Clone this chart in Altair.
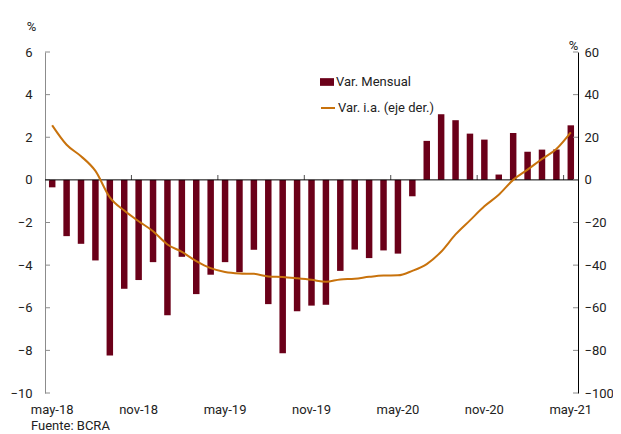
import altair as alt
import pandas as pd

# ---------------- data ----------------
months = [
    "may-18", "jun-18", "jul-18", "ago-18", "sep-18", "oct-18", "nov-18", "dic-18",
    "ene-19", "feb-19", "mar-19", "abr-19", "may-19", "jun-19", "jul-19", "ago-19",
    "sep-19", "oct-19", "nov-19", "dic-19", "ene-20", "feb-20", "mar-20", "abr-20",
    "may-20", "jun-20", "jul-20", "ago-20", "sep-20", "oct-20", "nov-20", "dic-20",
    "ene-21", "feb-21", "mar-21", "abr-21", "may-21",
]
var_mensual = [
    -0.35, -2.64, -3.00, -3.78, -8.24, -5.11, -4.70, -3.86,
    -6.35, -3.61, -5.36, -4.45, -3.86, -4.33, -3.28, -5.83,
    -8.13, -6.17, -5.90, -5.86, -4.27, -3.27, -3.67, -3.31,
    -3.46, -0.77, 1.83, 3.08, 2.80, 2.17, 1.89, 0.25,
    2.20, 1.32, 1.42, 1.42, 2.56,
]
var_ia = [
    25.6, 16.5, 11.1, 4.2, -8.2, -14.4, -19.4, -24.1,
    -30.3, -33.8, -38.1, -41.4, -43.2, -43.9, -44.1, -45.3,
    -45.6, -46.2, -46.9, -47.8, -46.7, -46.4, -45.5, -44.9,
    -44.8, -42.7, -39.5, -33.7, -25.6, -19.0, -12.4, -7.0,
    0.0, 4.8, 9.8, 14.5, 22.3,
]
serie_mensual = "Var. Mensual"
serie_ia = "Var. i.a. (eje der.)"
x_labels = ["may-18", "nov-18", "may-19", "nov-19", "may-20", "nov-20", "may-21"]
x_tick_months = ["nov-18", "may-19", "nov-19", "may-20", "nov-20", "may-21"]
left_ticks = [-10, -8, -6, -4, -2, 0, 2, 4, 6]
right_ticks = [-100, -80, -60, -40, -20, 0, 20, 40, 60]
zero_line = [0]
fuente = "Fuente: BCRA"

# ---------------- style ----------------
BAR = "#6B0019"
LINE = "#C8720C"
FONT = "Roboto"
TXT = "#222222"
W, H = 533, 341

df = pd.DataFrame({
    "mes": months,
    "mensual": var_mensual,
    "ia": var_ia,
    "s_m": [serie_mensual] * len(months),
    "s_ia": [serie_ia] * len(months),
})

xscale = alt.Scale(domain=months, paddingInner=0, paddingOuter=0)

bars = alt.Chart(df).mark_bar(width=alt.RelativeBandSize(0.45)).encode(
    x=alt.X("mes:N", sort=months, scale=xscale,
            axis=alt.Axis(values=x_labels, title=None, domain=False, ticks=False,
                          labelAngle=0, labelPadding=10, labelFont=FONT,
                          labelFontSize=13, labelColor=TXT)),
    y=alt.Y("mensual:Q", scale=alt.Scale(domain=[-10, 6], nice=False, zero=False),
            axis=alt.Axis(values=left_ticks, title="%", titleAngle=0, titleX=-14,
                          titleY=-26, titleAlign="center", titleBaseline="middle",
                          titleFont=FONT, titleFontSize=13, titleFontWeight="normal",
                          titleColor=TXT, ticks=False, grid=False,
                          domainColor="#8c8c8c", labelPadding=13, labelFont=FONT,
                          labelFontSize=13, labelColor=TXT)),
    fill=alt.Fill("s_m:N", scale=alt.Scale(range=[BAR]),
                  legend=alt.Legend(title=None, orient="none", legendX=275, legendY=23,
                                    symbolType="M-1,-0.55H1V0.55H-1Z", symbolSize=196,
                                    symbolStrokeWidth=0, labelFont=FONT, labelFontSize=13,
                                    labelColor=TXT, labelOffset=2, padding=0)),
)

lticks = alt.Chart(pd.DataFrame({"v": left_ticks})).mark_rule(
    color="#8c8c8c", strokeWidth=1
).encode(y="v:Q", x=alt.value(0), x2=alt.value(5))

zero = alt.Chart(pd.DataFrame({"v": zero_line})).mark_rule(
    color="#000000", strokeWidth=1
).encode(y="v:Q")

xticks = alt.Chart(pd.DataFrame({"mes": x_tick_months})).mark_tick(
    orient="vertical", size=5, thickness=1, yOffset=-2.5, color="#000000"
).encode(x=alt.X("mes:N", sort=months, bandPosition=0), y=alt.datum(0))

left = alt.layer(bars, lticks, zero, xticks)

line = alt.Chart(df).mark_line(strokeWidth=2, interpolate="monotone").encode(
    x=alt.X("mes:N", sort=months),
    y=alt.Y("ia:Q", scale=alt.Scale(domain=[-100, 60], nice=False, zero=False),
            axis=alt.Axis(orient="right", values=right_ticks, title="%", titleAngle=0,
                          titleX=-5, titleY=-7, titleAlign="center",
                          titleBaseline="middle", titleFont=FONT, titleFontSize=13,
                          titleFontWeight="normal", titleColor=TXT, ticks=False,
                          grid=False, domainColor="#000000", labelPadding=6,
                          labelFont=FONT, labelFontSize=13, labelColor=TXT)),
    stroke=alt.Stroke("s_ia:N", scale=alt.Scale(range=[LINE]),
                      legend=alt.Legend(title=None, orient="none", legendX=275, legendY=48,
                                        symbolType="stroke", symbolSize=196,
                                        symbolStrokeWidth=2, labelFont=FONT,
                                        labelFontSize=13, labelColor=TXT,
                                        labelOffset=2, padding=0)),
)

rticks = alt.Chart(pd.DataFrame({"v": right_ticks})).mark_rule(
    color="#8c8c8c", strokeWidth=1
).encode(y=alt.Y("v:Q"), x=alt.value(W - 5), x2=alt.value(W))

right = alt.layer(line, rticks)

chart = alt.layer(left, right).resolve_scale(y="independent").properties(
    width=W, height=H,
    autosize=alt.AutoSizeParams(type="none"),
    padding={"left": 37, "top": 44, "right": 35, "bottom": 41},
    title=alt.TitleParams(fuente, orient="bottom", anchor="start", frame="group",
                          dx=-14, offset=4, font=FONT, fontSize=13,
                          fontWeight="normal", color=TXT),
).configure_view(stroke=None)

chart.save("out.html", embed_options={"renderer": "svg", "actions": False})
